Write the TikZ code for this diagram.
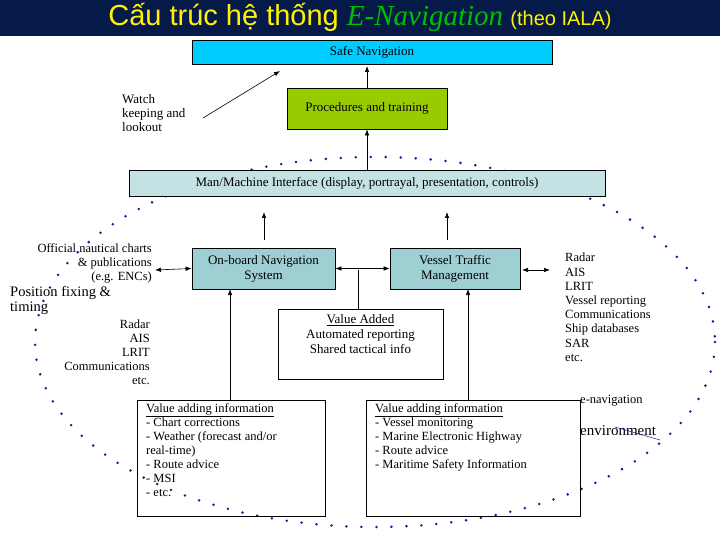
\documentclass[tikz,border=0pt]{standalone}
\usepackage{fontspec}
\setmainfont{Liberation Serif}
\setsansfont{Liberation Sans}
\usetikzlibrary{arrows.meta}
\definecolor{navy}{HTML}{061A4A}
\definecolor{cyanb}{HTML}{00CCFF}
\definecolor{olive}{HTML}{99CC00}
\definecolor{mmi}{HTML}{C4E2E4}
\definecolor{teal}{HTML}{9ECFD2}
\definecolor{dotc}{HTML}{1A1A99}
\begin{document}
\begin{tikzpicture}[x=1pt,y=-1pt,
  box/.style={draw,line width=0.8pt,inner sep=0pt},
  arr/.style={-{Latex[length=6pt,width=4.5pt]},line width=0.6pt},
  darr/.style={{Latex[length=6pt,width=4.5pt]}-{Latex[length=6pt,width=4.5pt]},line width=0.6pt},
  txt/.style={font=\fontsize{13}{15}\selectfont,inner sep=0pt}]
\useasboundingbox (0,0) rectangle (720,540);
\fill[white] (0,0) rectangle (720,540);
\fill[navy] (0,0) rectangle (720,36);
\node[inner sep=0pt] (title) at (360,17) {\fontsize{29}{30}\selectfont\sffamily\color{yellow}Cấu trúc hệ thống \rmfamily\itshape\color{green!75!black}E-Navigation \fontsize{20}{22}\selectfont\sffamily\upshape\color{yellow}(theo IALA)};
% dotted ellipse
\draw[dotc,line width=2.8pt,line cap=round,dash pattern=on 0pt off 15pt] (375,342) ellipse [x radius=340,y radius=185];
% boxes
\node[box,fill=cyanb,minimum width=360,minimum height=24,txt] (safe) at (372,52) {Safe Navigation};
\node[box,fill=olive,minimum width=160,minimum height=41,txt] (proc) at (367,108.5) {Procedures and training};
\node[box,fill=mmi,minimum width=476,minimum height=26,txt] (mmi) at (367,183) {Man/Machine Interface (display, portrayal, presentation, controls)};
\node[box,fill=teal,minimum width=143,minimum height=41,txt,align=center] (ons) at (263.5,268.5) {On-board Navigation\\System};
\node[box,fill=teal,minimum width=130,minimum height=41,txt,align=center] (vtm) at (455,268.5) {Vessel Traffic\\Management};
\node[box,minimum width=165,minimum height=70] (va) at (360.5,344) {};
\node[txt,align=center,anchor=north] (vat) at (360.5,314) {\underline{Value Added}\\Automated reporting\\Shared tactical info};
\node[box,minimum width=188,minimum height=116] (vl) at (231,458) {};
\node[box,minimum width=214,minimum height=116] (vr) at (473,458) {};
\node[txt,anchor=north west,align=left,font=\fontsize{12.5}{14}\selectfont] (vlt) at (146,403) {\underline{Value adding information}\\- Chart corrections\\- Weather (forecast and/or\\real-time)\\- Route advice\\- MSI\\- etc.};
\node[txt,anchor=north west,align=left,font=\fontsize{12.5}{14}\selectfont] (vrt) at (375,403) {\underline{Value adding information}\\- Vessel monitoring\\- Marine Electronic Highway\\- Route advice\\- Maritime Safety Information};
% side texts
\node[txt,anchor=north west,align=left,font=\fontsize{13}{14}\selectfont] (watch) at (122,94) {Watch\\keeping and\\lookout};
\node[txt,anchor=north east,align=right,font=\fontsize{12.5}{14}\selectfont] (charts) at (152,243) {Official nautical charts\\\& publications\\(e.g. ENCs)};
\node[txt,anchor=north west,align=left,font=\fontsize{14.5}{15}\selectfont] (pos) at (10,286) {Position fixing \&\\timing};
\node[txt,anchor=north east,align=right,font=\fontsize{12.5}{14}\selectfont] (lradar) at (150,320) {Radar\\AIS\\LRIT\\Communications\\etc.};
\node[txt,anchor=north west,align=left,font=\fontsize{12.5}{14.2}\selectfont] (rradar) at (565,253) {Radar\\AIS\\LRIT\\Vessel reporting\\Communications\\Ship databases\\SAR\\etc.};
\node[txt,anchor=west,font=\fontsize{12.5}{13}\selectfont] (enav) at (580,401) {e-navigation};
\node[txt,anchor=west,font=\fontsize{15}{15}\selectfont] (env) at (580,431) {environment};
\coordinate (envend) at (660,440);
\draw[dotc,line width=0.5pt] (615,427) -- (envend);
% arrows
\draw[arr] (proc.north) -- (367,66);
\draw[arr] (mmi.north) -- (proc.south);
\coordinate (wstart) at (203,118);
\coordinate (wend) at (280,71);
\draw[arr] (wstart) -- (wend);
\draw[arr] (264,240) -- (264,212);
\draw[arr] (447,240) -- (447,212);
\draw[darr] (155,270) -- (ons.west);
\draw[darr] (ons.east) -- (vtm.west);
\coordinate (vatop) at (358,309);
\draw[line width=0.6pt] (358,270) -- (vatop);
\draw[darr] (522,270) -- (550,270);
\draw[arr] (230,400) -- (230,289);
\draw[arr] (468,400) -- (468,289);
\end{tikzpicture}
\end{document}
